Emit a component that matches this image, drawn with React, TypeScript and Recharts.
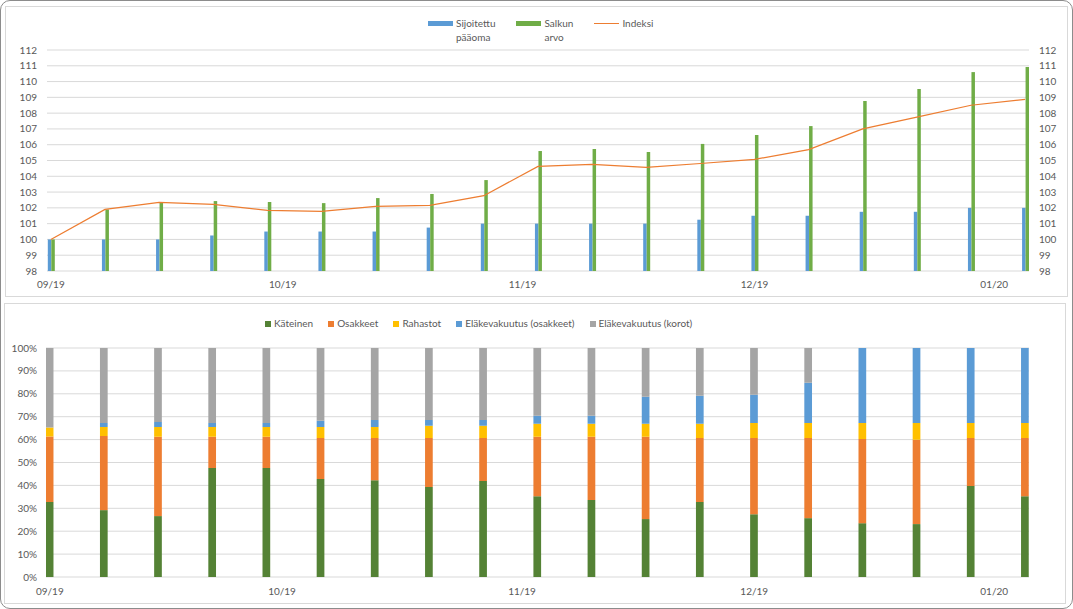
import React from 'react';
import {
  ComposedChart, BarChart, Bar, Line, XAxis, YAxis, CartesianGrid, Legend,
} from 'recharts';

// ---- categories (weekly dates) ----
const dates = [
  '2019-09-01', '2019-09-08', '2019-09-15', '2019-09-22', '2019-09-29',
  '2019-10-06', '2019-10-13', '2019-10-20', '2019-10-27', '2019-11-03',
  '2019-11-10', '2019-11-17', '2019-11-24', '2019-12-01', '2019-12-08',
  '2019-12-15', '2019-12-22', '2019-12-29', '2020-01-05',
];
const tickDates = ['2019-09-01', '2019-10-01', '2019-11-01', '2019-12-01', '2020-01-01'];
const tickLabels = ['09/19', '10/19', '11/19', '12/19', '01/20'];

// ---- top chart series ----
const invested = [100, 100, 100, 100.25, 100.5, 100.5, 100.5, 100.75, 101, 101, 101, 101, 101.25, 101.5, 101.5, 101.75, 101.75, 102, 102];
const portfolio = [100, 101.9, 102.35, 102.43, 102.37, 102.3, 102.62, 102.88, 103.76, 105.6, 105.73, 105.54, 106.05, 106.61, 107.18, 108.77, 109.53, 110.6, 110.92];
const indexLine = [100, 101.9, 102.35, 102.22, 101.84, 101.78, 102.1, 102.16, 102.77, 104.63, 104.75, 104.57, 104.81, 105.07, 105.69, 107.0, 107.75, 108.5, 108.87];
const topTicks = [98, 99, 100, 101, 102, 103, 104, 105, 106, 107, 108, 109, 110, 111, 112];

// ---- bottom chart series (percent shares) ----
const kateinen = [32.8, 29.2, 26.6, 47.6, 47.6, 42.8, 42.3, 39.3, 41.9, 35.3, 33.6, 25.3, 32.7, 27.4, 25.7, 23.5, 23.1, 39.7, 35.3];
const osakkeet = [28.5, 32.4, 34.6, 13.6, 13.6, 17.9, 18.4, 21.4, 18.8, 25.9, 27.6, 35.9, 28.0, 33.3, 35.0, 36.8, 36.8, 21.0, 25.4];
const rahastot = [4.0, 3.9, 4.3, 4.3, 4.3, 4.8, 4.8, 5.3, 5.3, 5.7, 5.7, 5.7, 6.2, 6.6, 6.6, 7.0, 7.4, 6.6, 6.6];
const elakeOsakkeet = [0, 1.8, 2.2, 1.8, 1.8, 2.7, 3.1, 2.6, 2.6, 3.5, 3.5, 11.8, 12.2, 12.3, 17.5, 32.7, 32.7, 32.7, 32.7];
const elakeKorot = [34.7, 32.7, 32.3, 32.7, 32.7, 31.8, 31.4, 31.4, 31.4, 29.6, 29.6, 21.3, 20.9, 20.4, 15.2, 0, 0, 0, 0];
const pctTicks = [0, 0.1, 0.2, 0.3, 0.4, 0.5, 0.6, 0.7, 0.8, 0.9, 1];

const DAY = 86400000;
const dayOf = (d: string) => Math.round((Date.parse(d) - Date.parse(dates[0])) / DAY);
const days = dates.map(dayOf);
const tickDays = tickDates.map(dayOf);
const lastDay = days[days.length - 1];

const topData = dates.map((d, i) => ({
  day: days[i], invested: invested[i], portfolio: portfolio[i], index: indexLine[i],
}));
const bottomData = dates.map((d, i) => ({
  day: days[i], kateinen: kateinen[i], osakkeet: osakkeet[i], rahastot: rahastot[i],
  elakeOsakkeet: elakeOsakkeet[i], elakeKorot: elakeKorot[i],
}));

const TEXT = '#595959';
const GRID = '#d9d9d9';
const FONT = 'Lato, "Open Sans", sans-serif';

const topSeries = [
  { key: 'invested', name: 'Sijoitettu pääoma', color: '#5B9BD5', kind: 'bar' },
  { key: 'portfolio', name: 'Salkun arvo', color: '#70AD47', kind: 'bar' },
  { key: 'index', name: 'Indeksi', color: '#ED7D31', kind: 'line' },
];
const bottomSeries = [
  { key: 'kateinen', name: 'Käteinen', color: '#548235' },
  { key: 'osakkeet', name: 'Osakkeet', color: '#ED7D31' },
  { key: 'rahastot', name: 'Rahastot', color: '#FFC000' },
  { key: 'elakeOsakkeet', name: 'Eläkevakuutus (osakkeet)', color: '#5B9BD5' },
  { key: 'elakeKorot', name: 'Eläkevakuutus (korot)', color: '#A5A5A5' },
];

const tickFmt = (v: number) => {
  const i = tickDays.indexOf(v);
  return i >= 0 ? tickLabels[i] : '';
};
const tickStyle = { fill: TEXT, fontSize: 10, fontFamily: FONT };

const TopLegend = () => (
  <div style={{ display: 'flex', justifyContent: 'flex-start', paddingLeft: 428, gap: 21, fontFamily: FONT, fontSize: 10, color: TEXT, lineHeight: '13.5px' }}>
    {topSeries.map((s) => (
      <div key={s.key} style={{ display: 'flex', alignItems: 'flex-start' }}>
        <div style={{ width: 25, height: 13.5, marginRight: 3, display: 'flex', alignItems: 'center' }}>
          <div style={{ width: 25, height: s.kind === 'bar' ? 5 : 1.2, background: s.color }} />
        </div>
        <div>
          {s.name.split(' ').map((w) => (
            <div key={w}>{w}</div>
          ))}
        </div>
      </div>
    ))}
  </div>
);

const BottomLegend = () => (
  <div style={{ display: 'flex', justifyContent: 'flex-start', paddingLeft: 265, gap: 15, fontFamily: FONT, fontSize: 10, color: TEXT, lineHeight: '13px' }}>
    {bottomSeries.map((s) => (
      <div key={s.key} style={{ display: 'flex', alignItems: 'center' }}>
        <div style={{ width: 6, height: 6, marginRight: 3, background: s.color }} />
        <span>{s.name}</span>
      </div>
    ))}
  </div>
);

export default function App() {
  return (
    <div style={{ position: 'absolute', left: 0, top: 0, width: 1073, height: 609, background: '#fff', fontFamily: FONT, overflow: 'hidden' }}>
      <div style={{ position: 'absolute', left: 0, top: 0, width: 1073, height: 609, boxSizing: 'border-box', border: '1.5px solid #8c8c8c', borderRadius: 10 }} />
      <div style={{ position: 'absolute', left: 5, top: 6, width: 1063, height: 291, boxSizing: 'border-box', border: `1px solid ${GRID}` }} />
      <div style={{ position: 'absolute', left: 4, top: 303, width: 1062, height: 301, boxSizing: 'border-box', border: `1px solid ${GRID}` }} />

      <div style={{ position: 'absolute', left: 0, top: 0 }}>
        <ComposedChart width={1073} height={300} data={topData} margin={{ top: 50, right: 0, bottom: 0, left: 0 }} barGap={0}>
          <CartesianGrid yAxisId="left" vertical={false} stroke={GRID} />
          <XAxis dataKey="day" type="number" domain={[-0.5, lastDay + 0.5]} ticks={tickDays} tickFormatter={tickFmt}
            allowDataOverflow axisLine={false} tickLine={false} tickSize={0} tickMargin={10} height={29} interval={0} tick={tickStyle} />
          <YAxis yAxisId="left" domain={[98, 112]} ticks={topTicks} width={47} axisLine={false} tickLine={false}
            tickSize={0} tickMargin={10} interval={0} tick={tickStyle} allowDataOverflow />
          <YAxis yAxisId="right" orientation="right" domain={[98, 112]} ticks={topTicks} width={44} axisLine={false} tickLine={false}
            tickSize={0} tickMargin={10} interval={0} tick={{ ...tickStyle, textAnchor: 'start' }} allowDataOverflow />
          <Bar yAxisId="left" dataKey="invested" name="Sijoitettu pääoma" fill="#5B9BD5" barSize={3.5} isAnimationActive={false} />
          <Bar yAxisId="left" dataKey="portfolio" name="Salkun arvo" fill="#70AD47" barSize={3.5} isAnimationActive={false} />
          <Line yAxisId="left" dataKey="index" name="Indeksi" type="linear" stroke="#ED7D31" strokeWidth={1.25} dot={false} activeDot={false} isAnimationActive={false} />
          <Legend verticalAlign="middle" align="center" layout="horizontal" width={1073}
            wrapperStyle={{ left: 0, top: 17, width: 1073 }} content={() => <TopLegend />} />
        </ComposedChart>
      </div>

      <div style={{ position: 'absolute', left: 0, top: 300 }}>
        <BarChart width={1073} height={309} data={bottomData} stackOffset="expand" margin={{ top: 48, right: 44, bottom: 0, left: 0 }}>
          <CartesianGrid vertical={false} stroke={GRID} />
          <XAxis dataKey="day" type="number" domain={[-0.5, lastDay + 0.5]} ticks={tickDays} tickFormatter={tickFmt}
            allowDataOverflow axisLine={false} tickLine={false} tickSize={0} tickMargin={11} height={32} interval={0} tick={tickStyle} />
          <YAxis domain={[0, 1]} ticks={pctTicks} tickFormatter={(v: number) => `${Math.round(v * 100)}%`} width={46}
            axisLine={false} tickLine={false} tickSize={0} tickMargin={9} interval={0} tick={tickStyle} />
          {bottomSeries.map((s) => (
            <Bar key={s.key} dataKey={s.key} name={s.name} stackId="a" fill={s.color} barSize={7.7} isAnimationActive={false} />
          ))}
          <Legend verticalAlign="middle" align="center" layout="horizontal" width={1073}
            wrapperStyle={{ left: 0, top: 17, width: 1073 }} content={() => <BottomLegend />} />
        </BarChart>
      </div>
    </div>
  );
}
